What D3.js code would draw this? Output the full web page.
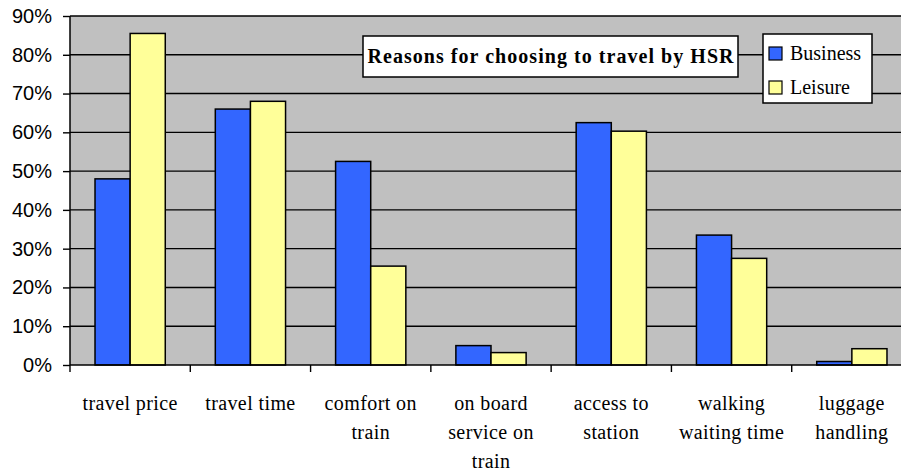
<!DOCTYPE html>
<html>
<head>
<meta charset="utf-8">
<script src="https://cdn.jsdelivr.net/npm/d3@7"></script>
<style>
  html, body { margin: 0; padding: 0; background: #fff; }
  svg { display: block; }
</style>
</head>
<body>
<svg id="chart" width="901" height="472"></svg>
<script>
// Survey shares: why passengers pick high-speed rail
const categories = ["travel price", "travel time", "comfort on train", "on board service on train",
                    "access to station", "walking waiting time", "luggage handling"];
const categoryLines = [["travel price"], ["travel time"], ["comfort on", "train"],
                       ["on board", "service on", "train"], ["access to", "station"],
                       ["walking", "waiting time"], ["luggage", "handling"]];
const seriesNames = ["Business", "Leisure"];
const business = [0.48, 0.66, 0.525, 0.05, 0.625, 0.335, 0.009];
const leisure  = [0.855, 0.68, 0.255, 0.032, 0.603, 0.275, 0.042];
const yTicks = [0, 0.1, 0.2, 0.3, 0.4, 0.5, 0.6, 0.7, 0.8, 0.9];
const chartTitle = "Reasons for choosing to travel by HSR";

const colors = { Business: "#3366ff", Leisure: "#ffff99" };
const values = { Business: business, Leisure: leisure };

const svg = d3.select("#chart");
const plot = { left: 70, right: 912, top: 16, bottom: 365 };

const x = d3.scaleBand().domain(categories)
  .range([plot.left, plot.right]).paddingInner(0.416).paddingOuter(0.208);
const xs = d3.scaleBand().domain(seriesNames).range([0, x.bandwidth()]);
const y = d3.scaleLinear().domain([0, 0.9]).range([plot.bottom, plot.top]);

// plot background
svg.append("rect")
  .attr("x", plot.left).attr("y", plot.top)
  .attr("width", plot.right - plot.left).attr("height", plot.bottom - plot.top)
  .attr("fill", "#c0c0c0");

// horizontal gridlines
svg.append("g").selectAll("line").data(yTicks.slice(1)).join("line")
  .attr("x1", plot.left).attr("x2", plot.right)
  .attr("y1", d => y(d)).attr("y2", d => y(d))
  .attr("stroke", "#000").attr("stroke-width", 1.4);

// bars
const groups = svg.append("g").selectAll("g").data(categories).join("g")
  .attr("transform", d => `translate(${x(d)},0)`);
groups.selectAll("rect")
  .data((d, i) => seriesNames.map(s => ({ s, v: values[s][i] })))
  .join("rect")
  .attr("x", d => xs(d.s)).attr("width", xs.bandwidth())
  .attr("y", d => y(d.v)).attr("height", d => y(0) - y(d.v))
  .attr("fill", d => colors[d.s])
  .attr("stroke", "#000").attr("stroke-width", 1.5);

// y axis
const yAxis = svg.append("g")
  .attr("transform", `translate(${plot.left},0)`)
  .call(d3.axisLeft(y).tickValues(yTicks).tickFormat(d3.format(".0%"))
        .tickSize(7).tickPadding(11));
yAxis.select(".domain").attr("stroke", "#000").attr("stroke-width", 1.5)
  .attr("d", `M0,${plot.top}V${plot.bottom}`);
yAxis.selectAll(".tick line").attr("stroke", "#000").attr("stroke-width", 1.4);
yAxis.selectAll(".tick text")
  .attr("font-family", "'Liberation Sans', Arial, sans-serif")
  .attr("font-size", 20).attr("fill", "#000");

// x axis baseline and category boundary ticks
svg.append("line")
  .attr("x1", plot.left).attr("x2", plot.right)
  .attr("y1", y(0)).attr("y2", y(0))
  .attr("stroke", "#000").attr("stroke-width", 1.5);
const boundaries = d3.range(categories.length + 1).map(i => plot.left + i * x.step());
svg.append("g").selectAll("line").data(boundaries).join("line")
  .attr("x1", d => d).attr("x2", d => d)
  .attr("y1", y(0)).attr("y2", y(0) + 7)
  .attr("stroke", "#000").attr("stroke-width", 1.4);

// category labels
const labels = svg.append("g").selectAll("text").data(categories).join("text")
  .attr("x", d => x(d) + x.bandwidth() / 2)
  .attr("y", 410)
  .attr("text-anchor", "middle")
  .attr("font-family", "'Liberation Serif', 'Times New Roman', serif")
  .attr("font-size", 20).attr("letter-spacing", 0.4).attr("fill", "#000");
labels.selectAll("tspan").data((d, i) => categoryLines[i]).join("tspan")
  .attr("x", function () { return this.parentNode.getAttribute("x"); })
  .attr("dy", (d, i) => i === 0 ? 0 : 29)
  .text(d => d);

// title box
const tb = { x: 363, y: 36, w: 375, h: 41 };
svg.append("rect").attr("x", tb.x).attr("y", tb.y).attr("width", tb.w).attr("height", tb.h)
  .attr("fill", "#fff").attr("stroke", "#000").attr("stroke-width", 1.5);
svg.append("text")
  .attr("x", tb.x + tb.w / 2).attr("y", tb.y + tb.h / 2 + 6)
  .attr("text-anchor", "middle")
  .attr("font-family", "'Liberation Serif', 'Times New Roman', serif")
  .attr("font-weight", "bold").attr("font-size", 20)
  .attr("textLength", 366).attr("lengthAdjust", "spacing")
  .text(chartTitle);

// legend
const lg = { x: 763, y: 34, w: 109, h: 69 };
const legend = svg.append("g");
legend.append("rect").attr("x", lg.x).attr("y", lg.y).attr("width", lg.w).attr("height", lg.h)
  .attr("fill", "#fff").attr("stroke", "#000").attr("stroke-width", 1.5);
const items = legend.selectAll("g").data(seriesNames).join("g")
  .attr("transform", (d, i) => `translate(${lg.x + 6},${lg.y + 13 + i * 34})`);
items.append("rect").attr("width", 13).attr("height", 13)
  .attr("fill", d => colors[d]).attr("stroke", "#000").attr("stroke-width", 1.2);
items.append("text").attr("x", 21).attr("y", 13)
  .attr("font-family", "'Liberation Serif', 'Times New Roman', serif")
  .attr("font-size", 20).attr("fill", "#000")
  .text(d => d);
</script>
</body>
</html>
